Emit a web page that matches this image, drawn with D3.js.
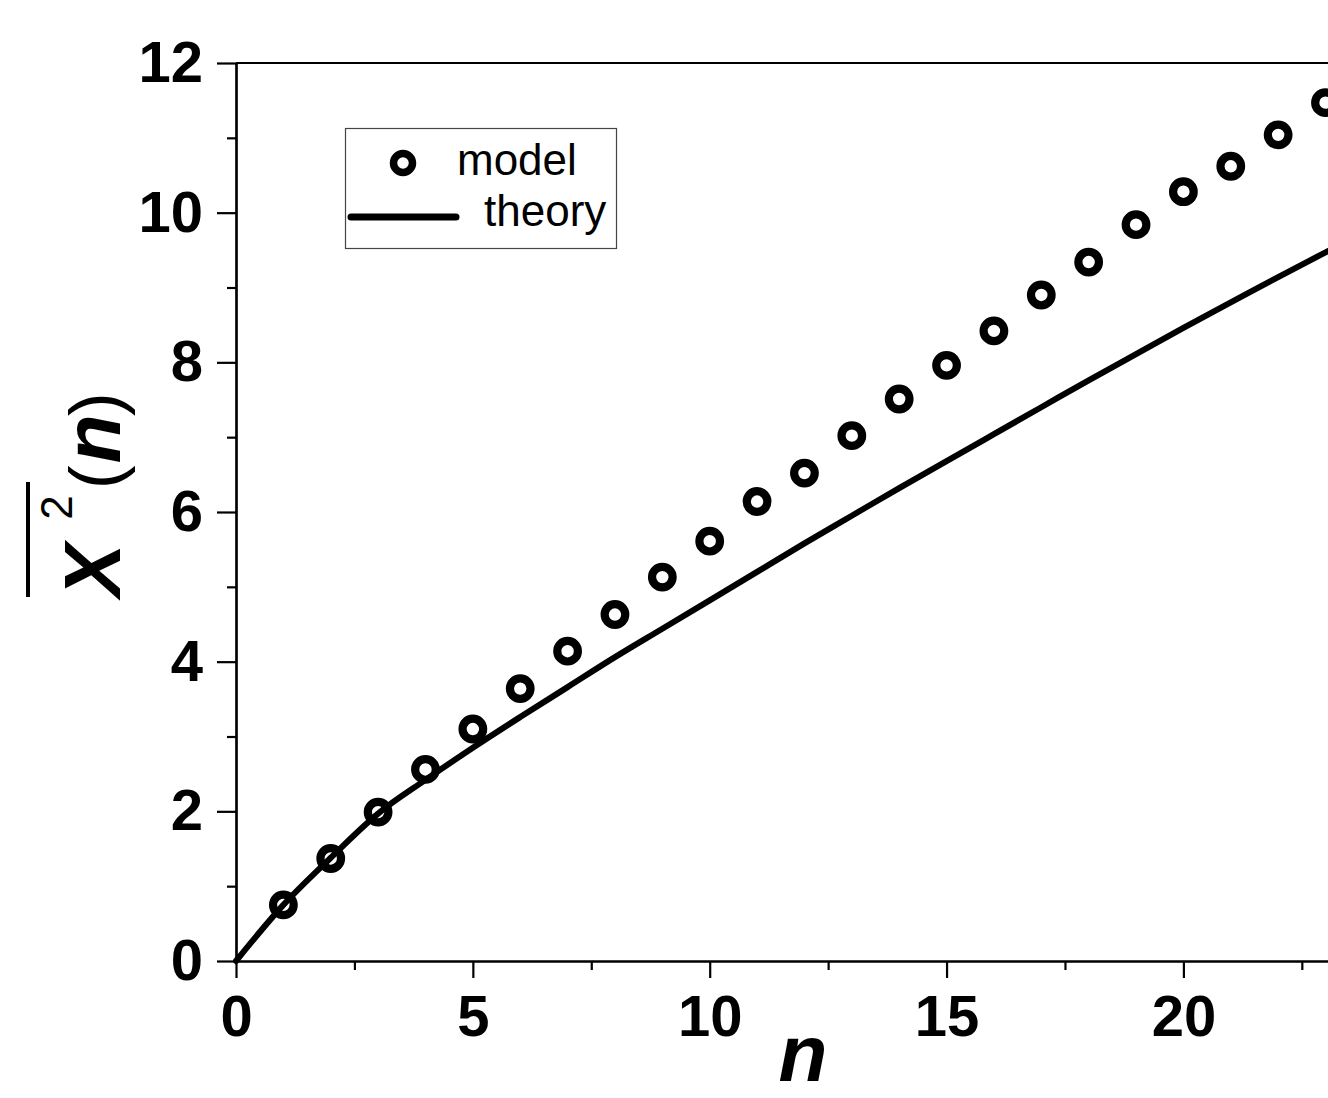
<!DOCTYPE html>
<html>
<head>
<meta charset="utf-8">
<script src="https://cdn.jsdelivr.net/npm/d3@7"></script>
<style>
  html, body { margin: 0; padding: 0; background: #fff; }
  svg { display: block; }
  text { font-family: "Liberation Sans", Arial, Helvetica, sans-serif; fill: #000; }
</style>
</head>
<body>
<svg id="chart" width="1328" height="1098"></svg>
<script>
// Mean squared displacement vs. step number n
const modelN = [1, 2, 3, 4, 5, 6, 7, 8, 9, 10, 11, 12, 13, 14, 15, 16, 17, 18, 19, 20, 21, 22, 23];
const modelX2 = [0.75, 1.37, 1.99, 2.56, 3.10, 3.64, 4.14, 4.63, 5.13, 5.61, 6.14, 6.52, 7.02, 7.51, 7.96,
                 8.42, 8.90, 9.34, 9.84, 10.28, 10.62, 11.04, 11.47];

const theoryN = [0, 1, 2, 3, 4, 5, 6, 7, 8, 9, 10, 11, 12, 13, 14, 15, 16, 17, 18, 19, 20, 21, 22, 23, 24];
const theoryX2 = [0, 0.75, 1.38, 1.97, 2.42, 2.85, 3.26, 3.66, 4.06, 4.44, 4.82, 5.20, 5.58, 5.95, 6.32,
                  6.68, 7.04, 7.40, 7.76, 8.11, 8.46, 8.80, 9.14, 9.47, 9.80];

const xMajorTicks = [0, 5, 10, 15, 20];
const xMinorTicks = [2.5, 7.5, 12.5, 17.5, 22.5];
const yMajorTicks = [0, 2, 4, 6, 8, 10, 12];
const yMinorTicks = [1, 3, 5, 7, 9, 11];

const legendLabels = ["model", "theory"];

const svg = d3.select("#chart");
const W = 1328, H = 1098;
svg.append("rect").attr("width", W).attr("height", H).attr("fill", "#fff");

const plotLeft = 236, plotTop = 63, plotBottom = 961;
const unitX = 47.37;
const x = d3.scaleLinear().domain([0, 25]).range([plotLeft, plotLeft + 25 * unitX]);
const y = d3.scaleLinear().domain([0, 12]).range([plotBottom, plotTop]);

const tickFont = "bold 58px 'Liberation Sans', Arial, sans-serif";

// frame: top border
svg.append("line")
  .attr("x1", plotLeft).attr("x2", x(25))
  .attr("y1", y(12)).attr("y2", y(12))
  .attr("stroke", "#000").attr("stroke-width", 2.2);

// x axis
const gx = svg.append("g").attr("transform", `translate(0,${plotBottom})`);
gx.call(d3.axisBottom(x).tickValues(xMajorTicks).tickSize(17).tickSizeOuter(0).tickPadding(17).tickFormat(d3.format("d")));
gx.append("g").call(d3.axisBottom(x).tickValues(xMinorTicks).tickSize(9).tickSizeOuter(0).tickFormat(""));

// y axis
const gy = svg.append("g").attr("transform", `translate(${plotLeft},0)`);
gy.call(d3.axisLeft(y).tickValues(yMajorTicks).tickSize(19).tickSizeOuter(0).tickPadding(14).tickFormat(d3.format("d")));
gy.append("g").call(d3.axisLeft(y).tickValues(yMinorTicks).tickSize(9).tickSizeOuter(0).tickFormat(""));

svg.selectAll(".domain").attr("stroke", "#000").attr("stroke-width", 2.2);
svg.selectAll(".tick line").attr("stroke", "#000").attr("stroke-width", 2.2);
svg.selectAll(".tick text").style("font", tickFont).attr("fill", "#000");

// theory curve
const line = d3.line()
  .x((d, i) => x(theoryN[i]))
  .y(d => y(d))
  .curve(d3.curveMonotoneX);
svg.append("path")
  .datum(theoryX2)
  .attr("d", line)
  .attr("fill", "none")
  .attr("stroke", "#000")
  .attr("stroke-width", 6)
  .attr("stroke-linecap", "round");

// model points
svg.append("g").selectAll("circle")
  .data(modelX2)
  .join("circle")
  .attr("cx", (d, i) => x(modelN[i]))
  .attr("cy", d => y(d))
  .attr("r", 10.3)
  .attr("fill", "none")
  .attr("stroke", "#000")
  .attr("stroke-width", 8.2);

// axis titles
svg.append("text")
  .attr("x", 803).attr("y", 1081)
  .attr("text-anchor", "middle")
  .style("font", "italic bold 80px 'Liberation Sans', Arial, sans-serif")
  .text("n");

const yt = svg.append("g").attr("transform", "translate(120,597) rotate(-90)");
const ytext = yt.append("text").attr("x", 0).attr("y", 0);
ytext.append("tspan").style("font", "italic bold 80px 'Liberation Sans', Arial, sans-serif").text("X");
ytext.append("tspan").attr("dx", 24).attr("dy", -48).style("font", "44px 'Liberation Sans', Arial, sans-serif").text("2");
ytext.append("tspan").attr("dx", 6).attr("dy", 48).style("font", "72px 'Liberation Sans', Arial, sans-serif").text("(");
ytext.append("tspan").attr("dx", 2).style("font", "italic bold 80px 'Liberation Sans', Arial, sans-serif").text("n");
ytext.append("tspan").attr("dx", -2).style("font", "72px 'Liberation Sans', Arial, sans-serif").text(")");
// bar over X²
svg.append("line")
  .attr("x1", 28).attr("x2", 28)
  .attr("y1", 482).attr("y2", 597)
  .attr("stroke", "#000").attr("stroke-width", 4);

// legend
const lg = svg.append("g");
lg.append("rect")
  .attr("x", 345.5).attr("y", 128.5).attr("width", 271).attr("height", 120)
  .attr("fill", "#fff").attr("stroke", "#444").attr("stroke-width", 1.2);
lg.append("circle")
  .attr("cx", 403).attr("cy", 163).attr("r", 9.5)
  .attr("fill", "none").attr("stroke", "#000").attr("stroke-width", 7.5);
lg.append("line")
  .attr("x1", 351).attr("x2", 456).attr("y1", 217).attr("y2", 217)
  .attr("stroke", "#000").attr("stroke-width", 7).attr("stroke-linecap", "round");
lg.append("text").attr("x", 457).attr("y", 175)
  .style("font", "44px 'Liberation Sans', Arial, sans-serif").text(legendLabels[0]);
lg.append("text").attr("x", 484).attr("y", 226)
  .style("font", "44px 'Liberation Sans', Arial, sans-serif").text(legendLabels[1]);
</script>
</body>
</html>
